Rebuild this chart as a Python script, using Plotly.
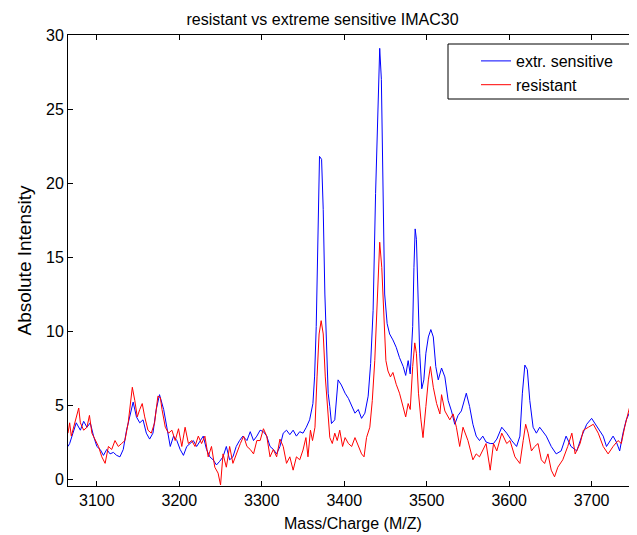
import plotly.graph_objects as go

# extr. sensitive (blue)
mz_sens = [3065, 3067, 3071, 3075, 3080, 3084, 3088, 3092, 3096, 3100, 3104, 3108, 3112, 3116, 3120,
           3124, 3128, 3132, 3136, 3140, 3144, 3148, 3152, 3156, 3160, 3164, 3168, 3172, 3176, 3181,
           3185, 3189, 3193, 3197, 3201, 3205, 3209, 3213, 3217, 3221, 3225, 3229, 3233, 3237, 3241,
           3245, 3249, 3253, 3257, 3261, 3265, 3269, 3273, 3277, 3282, 3286, 3290, 3294, 3298, 3302,
           3306, 3310, 3314, 3318, 3322, 3326, 3330, 3334, 3338, 3342, 3346, 3350, 3354, 3358, 3362,
           3364, 3366, 3368, 3370, 3372.5, 3374.5, 3376.5, 3378.5, 3380.5, 3382.5, 3384.5, 3388.5, 3392.5, 3396.5, 3401,
           3405, 3409, 3413, 3417, 3421, 3425, 3429, 3432, 3435, 3438, 3441, 3443, 3445, 3447, 3449,
           3452, 3455, 3459, 3463, 3467, 3471.5, 3474.5, 3477.5, 3480, 3483, 3484.5, 3486, 3487.5, 3489.5, 3491.5,
           3494, 3496.5, 3499, 3502, 3505, 3508, 3511, 3514, 3518, 3522, 3526, 3530, 3534, 3538, 3542,
           3548, 3552, 3556, 3560, 3564, 3568, 3572, 3577, 3581, 3585, 3591, 3597, 3603, 3609, 3613,
           3616, 3619, 3622, 3625, 3629, 3633, 3637, 3641, 3645, 3651, 3657, 3663, 3669, 3675, 3682,
           3688, 3694, 3700, 3706, 3714, 3718, 3722, 3726, 3730, 3734, 3738, 3742, 3746, 3750, 3755]
int_sens = [2.2, 2.4, 3.1, 3.8, 3.3, 3.9, 3.5, 3.8, 2.9, 2.2, 2.0, 1.6, 2.0, 1.7, 1.8,
            1.6, 1.5, 2.0, 3.3, 4.2, 5.2, 4.2, 3.8, 4.0, 3.1, 2.7, 3.1, 4.7, 5.7, 4.7,
            3.3, 2.2, 2.9, 2.6, 2.0, 1.6, 2.2, 2.4, 2.6, 2.2, 2.6, 2.9, 2.0, 1.5, 1.3,
            0.95, 1.2, 1.5, 2.2, 1.3, 1.5, 2.2, 2.6, 2.9, 2.6, 3.2, 2.6, 2.9, 3.3, 3.2,
            2.9, 2.2, 2.0, 1.7, 2.2, 3.1, 3.3, 3.0, 3.3, 2.9, 3.2, 3.1, 3.5, 4.0, 5.1,
            6.9, 10.3, 17.0, 21.8, 21.6, 18.2, 12.5, 9.1, 5.8, 4.9, 3.75, 4.0, 6.7, 6.35, 5.8,
            5.45, 4.9, 4.45, 4.7, 4.1, 4.45, 5.6, 7.8, 11.4, 19.3, 26.1, 29.1, 27.0, 19.3, 12.5,
            10.5, 9.8, 9.4, 8.9, 8.2, 7.6, 7.0, 8.0, 7.1, 10.3, 14.3, 16.9, 16.2, 13.0, 8.5,
            6.1, 6.7, 8.5, 9.6, 10.1, 9.6, 7.6, 6.7, 7.5, 6.9, 5.3, 4.6, 3.7, 4.3, 4.6,
            5.8, 4.9, 3.7, 2.9, 2.6, 2.9, 2.5, 2.4, 2.4, 2.7, 3.5, 3.1, 2.6, 2.2, 2.9,
            5.8, 7.7, 7.4, 5.3, 3.5, 3.1, 3.5, 3.2, 2.9, 2.2, 1.7, 1.9, 2.9, 2.2, 1.9,
            2.9, 3.7, 4.1, 3.6, 2.9, 2.2, 2.6, 2.9, 2.5, 1.9, 3.1, 4.0, 4.5, 4.3, 5.1]

# resistant (red)
mz_res = [3065, 3067, 3069, 3074, 3078, 3080, 3084, 3088, 3091, 3094, 3098, 3102, 3106, 3110, 3114,
          3118, 3122, 3126, 3130, 3134, 3138, 3141, 3143, 3146, 3149, 3152, 3155, 3158, 3162, 3166,
          3170, 3174, 3177, 3179, 3183, 3187, 3191, 3195, 3199, 3203, 3207, 3211, 3215, 3219, 3223,
          3227, 3231, 3235, 3239, 3243, 3247, 3250, 3253, 3257, 3261, 3265, 3269, 3274, 3278, 3282,
          3286, 3290, 3294, 3298, 3302, 3306, 3310, 3314, 3318, 3322, 3326, 3330, 3334, 3338, 3342,
          3346, 3350, 3353.5, 3356, 3359, 3361.5, 3364.5, 3367, 3369.5, 3372, 3374.5, 3377, 3379.5, 3382.5, 3385.5,
          3388.5, 3391.5, 3394.5, 3398, 3401, 3405, 3409, 3413, 3417, 3421, 3424, 3427, 3431, 3434, 3437,
          3440, 3443, 3445.5, 3448, 3450.5, 3453, 3456, 3459, 3463, 3467, 3471.5, 3474.5, 3477.5, 3480, 3483,
          3485.5, 3487.5, 3490, 3493, 3495.5, 3499, 3502, 3504.5, 3508, 3512, 3516, 3518, 3522, 3528, 3532,
          3536, 3540, 3544, 3550, 3556, 3560, 3564, 3568, 3572, 3577, 3581, 3585, 3591, 3597, 3601,
          3607, 3613, 3617, 3620, 3623, 3627, 3631, 3635, 3639, 3643, 3647, 3651, 3655, 3659, 3665,
          3671, 3676, 3680, 3686, 3690, 3696, 3702, 3708, 3714, 3720, 3726, 3732, 3736, 3740, 3744,
          3748, 3752, 3755]
int_res = [3.1, 3.8, 2.9, 4.0, 4.8, 3.8, 3.3, 3.5, 4.3, 3.1, 2.6, 2.2, 1.5, 1.06, 2.2,
           2.0, 2.6, 2.2, 2.4, 2.6, 3.8, 5.5, 6.2, 5.3, 4.2, 4.7, 5.1, 4.2, 3.3, 3.1,
           3.8, 5.6, 5.5, 4.7, 3.5, 3.1, 3.3, 2.6, 3.4, 2.2, 3.5, 2.4, 2.6, 2.2, 2.9,
           2.4, 2.9, 1.5, 2.2, 0.8, 0.4, -0.4, 1.7, 0.8, 2.2, 1.06, 1.7, 2.4, 2.9, 2.2,
           2.0, 1.7, 2.6, 2.6, 3.4, 2.9, 1.5, 2.0, 1.5, 2.7, 2.2, 1.06, 1.5, 0.6, 1.5,
           1.3, 1.96, 2.8, 1.5, 3.3, 2.6, 3.5, 6.9, 9.8, 10.7, 9.8, 6.9, 4.7, 2.8, 2.4,
           3.1, 2.6, 3.3, 2.2, 2.8, 2.4, 2.2, 2.8, 2.2, 1.7, 1.5, 2.8, 3.5, 5.3, 8.0,
           12.5, 16.0, 14.3, 10.7, 8.0, 7.3, 6.9, 7.2, 6.4, 5.8, 4.9, 4.2, 5.1, 4.7, 7.6,
           9.2, 8.5, 5.8, 4.0, 2.8, 4.9, 6.7, 7.6, 6.2, 5.1, 4.4, 5.7, 4.6, 4.0, 4.4,
           3.5, 2.2, 3.5, 2.6, 1.3, 1.7, 1.5, 1.9, 2.4, 0.6, 2.4, 1.9, 3.1, 2.4, 2.6,
           1.5, 1.05, 2.6, 3.7, 3.1, 1.9, 2.2, 2.4, 1.3, 1.05, 1.7, 0.6, 0.15, 0.8, 1.3,
           2.2, 3.1, 1.7, 2.4, 3.3, 3.5, 3.7, 3.1, 2.2, 1.7, 2.2, 2.6, 2.4, 3.5, 4.4,
           5.3, 5.1, 4.6]

font = "Arial, Liberation Sans, sans-serif"

# the page puts the figure 8px in from the top-left corner, so the figure is
# 8px smaller than the window and everything is laid out 8px up/left
W, H = 629, 527
L, T, B = 60, 27, 49
plot_w, plot_h = W - L, H - T - B

fig = go.Figure()
fig.add_trace(go.Scatter(x=mz_sens, y=int_sens, mode="lines", name="extr. sensitive",
                         line=dict(color="#0000ff", width=1)))
fig.add_trace(go.Scatter(x=mz_res, y=int_res, mode="lines", name="resistant",
                         line=dict(color="#ff0000", width=1)))

# legend frame
fig.add_shape(type="rect", xref="paper", yref="paper",
              x0=380 / plot_w, x1=565 / plot_w,
              y0=(plot_h - 64) / plot_h, y1=(plot_h - 9) / plot_h,
              line=dict(color="black", width=1), fillcolor="white", layer="above")

# x axis title as annotation so it sits where the reference has it
fig.add_annotation(text="Mass/Charge (M/Z)", xref="paper", yref="paper",
                   x=0.5, y=-37 / plot_h, xanchor="center", yanchor="middle",
                   showarrow=False, font=dict(size=16))

fig.update_layout(
    width=W, height=H,
    margin=dict(l=L, r=0, t=T, b=B),
    paper_bgcolor="white", plot_bgcolor="white",
    font=dict(family=font, size=16, color="black"),
    title=dict(text="resistant vs extreme sensitive IMAC30", x=0.5, xanchor="center",
               y=1 - 11 / H, yanchor="middle", yref="container", font=dict(size=16)),
    showlegend=True,
    legend=dict(x=408 / plot_w, y=(plot_h - 9) / plot_h, xanchor="left", yanchor="top",
                bgcolor="rgba(0,0,0,0)", borderwidth=0, font=dict(size=16),
                tracegroupgap=0),
    xaxis=dict(range=[3065, 3755], tickvals=[3100, 3200, 3300, 3400, 3500, 3600, 3700],
               ticks="inside", ticklen=5, tickcolor="black", showline=True, linecolor="black",
               linewidth=1, mirror="ticks", showgrid=False, zeroline=False, automargin=False),
    yaxis=dict(range=[-0.47, 30], tickvals=[0, 5, 10, 15, 20, 25, 30],
               ticks="inside", ticklen=5, tickcolor="black", showline=True, linecolor="black",
               linewidth=1, mirror=False, showgrid=False, zeroline=False, automargin=False,
               title=dict(text="Absolute Intensity", standoff=9)),
)

fig.write_html("out.html")
